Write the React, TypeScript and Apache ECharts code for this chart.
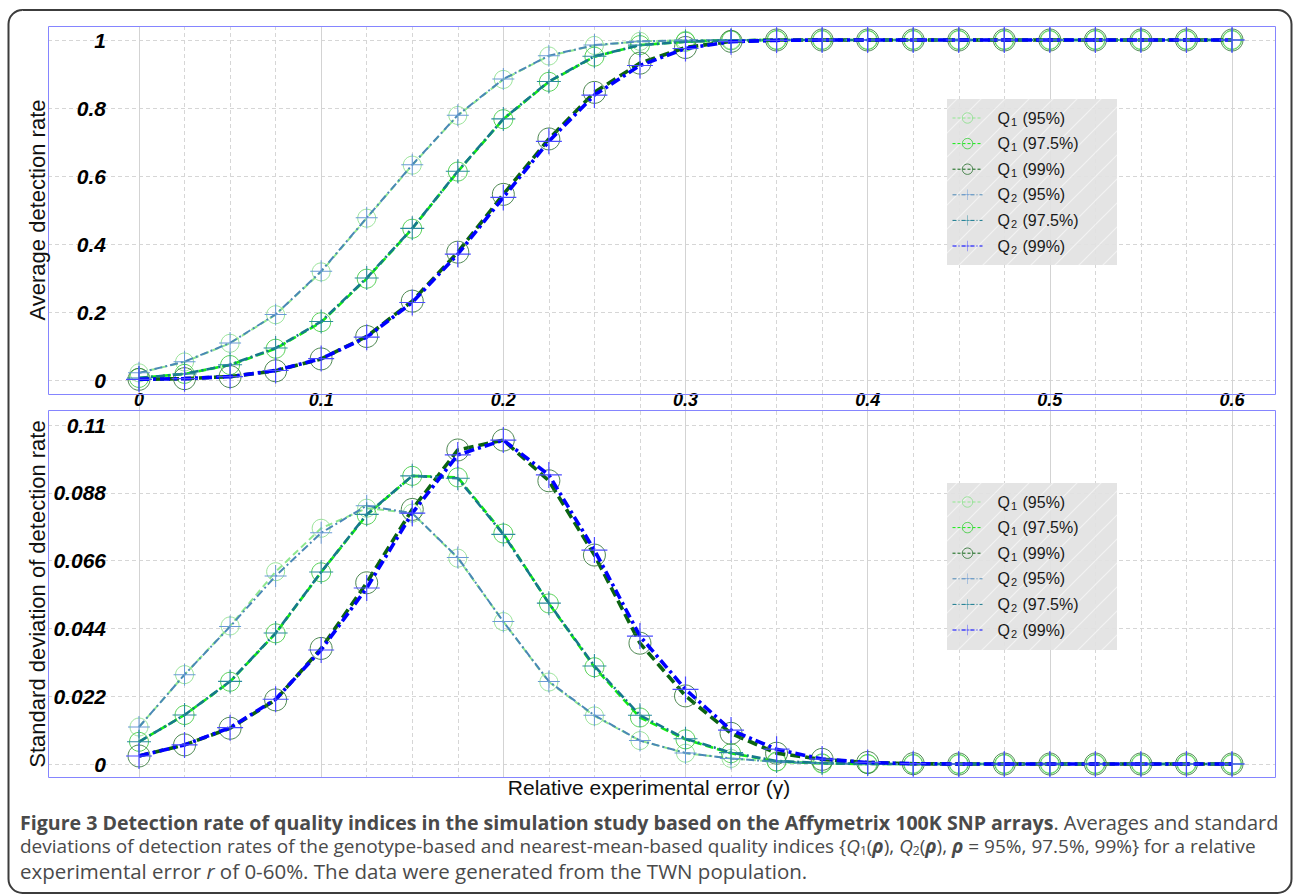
import React, { useEffect, useRef } from "react";
import * as echarts from "echarts";

const xs = [0, 0.025, 0.05, 0.075, 0.1, 0.125, 0.15, 0.175, 0.2, 0.225, 0.25, 0.275, 0.3, 0.325, 0.35, 0.375, 0.4, 0.425, 0.45, 0.475, 0.5, 0.525, 0.55, 0.575, 0.6];
const xTickLabels = [0, 0.1, 0.2, 0.3, 0.4, 0.5, 0.6];
const avgTicks = [0, 0.2, 0.4, 0.6, 0.8, 1];
const sdTicks = [0, 0.022, 0.044, 0.066, 0.088, 0.11];

const seriesNames = ["Q1 (95%)", "Q1 (97.5%)", "Q1 (99%)", "Q2 (95%)", "Q2 (97.5%)", "Q2 (99%)"];

// Average detection rate
const avgQ1_95 = [0.021, 0.053, 0.108, 0.192, 0.318, 0.476, 0.632, 0.778, 0.884, 0.953, 0.984, 0.996, 0.999, 1, 1, 1, 1, 1, 1, 1, 1, 1, 1, 1, 1];
const avgQ1_975 = [0.006, 0.018, 0.044, 0.092, 0.17, 0.298, 0.445, 0.613, 0.767, 0.877, 0.951, 0.985, 0.995, 0.999, 1, 1, 1, 1, 1, 1, 1, 1, 1, 1, 1];
const avgQ1_99 = [0.002, 0.004, 0.01, 0.027, 0.062, 0.128, 0.232, 0.376, 0.546, 0.709, 0.846, 0.932, 0.978, 0.996, 1, 1, 1, 1, 1, 1, 1, 1, 1, 1, 1];
const avgQ2_95 = [0.021, 0.054, 0.109, 0.193, 0.32, 0.477, 0.633, 0.779, 0.885, 0.954, 0.985, 0.996, 0.999, 1, 1, 1, 1, 1, 1, 1, 1, 1, 1, 1, 1];
const avgQ2_975 = [0.006, 0.018, 0.045, 0.094, 0.172, 0.3, 0.446, 0.614, 0.768, 0.878, 0.952, 0.985, 0.995, 0.999, 1, 1, 1, 1, 1, 1, 1, 1, 1, 1, 1];
const avgQ2_99 = [0.002, 0.004, 0.01, 0.028, 0.063, 0.126, 0.228, 0.37, 0.537, 0.702, 0.838, 0.925, 0.975, 0.995, 0.999, 1, 1, 1, 1, 1, 1, 1, 1, 1, 1];

// Standard deviation of detection rate
const sdQ1_95 = [0.012, 0.029, 0.0448, 0.0624, 0.0765, 0.083, 0.0814, 0.0668, 0.0462, 0.0266, 0.0156, 0.0076, 0.0035, 0.0018, 0.0007, 0.0002, 0, 0, 0, 0, 0, 0, 0, 0, 0];
const sdQ1_975 = [0.0072, 0.0159, 0.0267, 0.0424, 0.0622, 0.0808, 0.0935, 0.093, 0.0748, 0.0521, 0.0314, 0.0151, 0.008, 0.0035, 0.0008, 0.0002, 0, 0, 0, 0, 0, 0, 0, 0, 0];
const sdQ1_99 = [0.0026, 0.0062, 0.0116, 0.0208, 0.0375, 0.0588, 0.0826, 0.1019, 0.1051, 0.0919, 0.0678, 0.0392, 0.0221, 0.00995, 0.0035, 0.0015, 0.0005, 0.0001, 0, 0, 0, 0, 0, 0, 0];
const sdQ2_95 = [0.012, 0.029, 0.0446, 0.061, 0.075, 0.0838, 0.0814, 0.067, 0.0462, 0.0268, 0.0158, 0.0076, 0.0036, 0.0018, 0.0007, 0.0002, 0, 0, 0, 0, 0, 0, 0, 0, 0];
const sdQ2_975 = [0.0072, 0.0159, 0.0268, 0.0425, 0.0623, 0.081, 0.0935, 0.0927, 0.0745, 0.0522, 0.0318, 0.0158, 0.0082, 0.0037, 0.001, 0.0003, 0, 0, 0, 0, 0, 0, 0, 0, 0];
const sdQ2_99 = [0.0026, 0.0062, 0.0118, 0.021, 0.037, 0.0571, 0.0814, 0.1003, 0.1051, 0.0938, 0.0694, 0.0415, 0.0242, 0.011, 0.0048, 0.0016, 0.0005, 0.0001, 0, 0, 0, 0, 0, 0, 0];

const avgSeries = [avgQ1_95, avgQ1_975, avgQ1_99, avgQ2_95, avgQ2_975, avgQ2_99];
const sdSeries = [sdQ1_95, sdQ1_975, sdQ1_99, sdQ2_95, sdQ2_975, sdQ2_99];

const PLUS = "path://M-0.5,-11 L0.5,-11 L0.5,11 L-0.5,11 Z M-11,-0.5 L11,-0.5 L11,0.5 L-11,0.5 Z";

const styles = [
  { line: "#8fe88f", mark: "#8fe08f", width: 2, dash: [7, 4], legendDash: [3, 2], symbol: "circle", size: 18 },
  { line: "#11ee11", mark: "#44cc44", width: 2.6, dash: [8, 4], legendDash: [3, 2], symbol: "circle", size: 19 },
  { line: "#0b6410", mark: "#3a7a3e", width: 3.6, dash: [10, 5], legendDash: [3, 2], symbol: "circle", size: 22 },
  { line: "#4a88b6", mark: "#6a9ad6", width: 2, dash: [8, 3, 2, 3], legendDash: [4, 2, 1, 2], symbol: PLUS, size: 22 },
  { line: "#16788c", mark: "#2b8aa0", width: 2.6, dash: [9, 3, 2, 3], legendDash: [4, 2, 1, 2], symbol: PLUS, size: 24 },
  { line: "#0000ff", mark: "#4a4aff", width: 3.6, dash: [10, 4, 3, 4], legendDash: [4, 2, 1, 2], symbol: PLUS, size: 26 },
];

const FONT = "'Liberation Sans', Arial, sans-serif";
const CAP_FONT = "'Open Sans', 'Noto Sans', sans-serif";

function markStyle(k: number) {
  const s = styles[k];
  return s.symbol === "circle"
    ? { color: "rgba(0,0,0,0)", borderColor: s.mark, borderWidth: 0.9 }
    : { color: s.mark, borderWidth: 0 };
}

function makeSeries(values: number[][], xAxisIndex: number, yAxisIndex: number) {
  return values.map((arr, k) => {
    const s = styles[k];
    return {
      name: seriesNames[k],
      type: "line",
      xAxisIndex,
      yAxisIndex,
      clip: false,
      data: xs.map((x, i) => [x, arr[i]]),
      symbol: s.symbol,
      symbolSize: s.size,
      showSymbol: true,
      lineStyle: { color: s.line, width: s.width, type: s.dash },
      itemStyle: markStyle(k),
      emphasis: { disabled: true },
      z: 2 + k * 0.01,
    };
  });
}

const hatchSvg =
  "<svg xmlns='http://www.w3.org/2000/svg' width='24' height='24'><rect width='24' height='24' fill='#e2e2e2'/><path d='M-6,6 L6,-6 M0,24 L24,0 M18,30 L30,18' stroke='#f2f2f2' stroke-width='1.2'/></svg>";
const hatchFill = {
  image: "data:image/svg+xml;charset=utf-8," + encodeURIComponent(hatchSvg),
  repeat: "repeat",
  imageWidth: 24,
  imageHeight: 24,
};

const legendRich = {
  q: { fontSize: 16, fontFamily: FONT, color: "#1a1a1a", padding: [0, 0, 0, 10] },
  s: { fontSize: 11, fontFamily: FONT, color: "#1a1a1a", verticalAlign: "bottom", padding: [7, 1, 0, 1] },
  t: { fontSize: 16, fontFamily: FONT, color: "#1a1a1a" },
};
const legendFormatter = (name: string) => {
  const m = name.match(/^Q(\d) (.*)$/);
  if (!m) return name;
  return `{q|Q}{s|${m[1]}}{t| ${m[2]}}`;
};

function makeLegend(top: number) {
  return {
    data: seriesNames.map((name, k) => ({
      name,
      lineStyle: { color: styles[k].line, width: 1, type: styles[k].legendDash },
      itemStyle: markStyle(k),
    })),
    orient: "vertical",
    left: 952,
    top,
    itemWidth: 30,
    itemHeight: 13,
    itemGap: 8.6,
    padding: 0,
    selectedMode: false,
    formatter: legendFormatter,
    textStyle: { rich: legendRich, color: "#1a1a1a" },
  };
}

const tickLabelStyle = {
  fontFamily: FONT,
  fontWeight: "bold",
  fontStyle: "italic",
  color: "#000",
};

export default function App() {
  const ref = useRef<HTMLDivElement>(null);
  useEffect(() => {
    if (!ref.current) return;
    const chart = echarts.init(ref.current, null, { renderer: "svg" });
    const gridDash = { color: "#d6d6d6", type: [4, 3], width: 1 };
    const capColor = "#4a4a4a";
    const cap = (size: number, extra: any = {}) => ({ fontFamily: CAP_FONT, fontSize: size, lineHeight: 20, color: capColor, ...extra });
    const option: any = {
      animation: false,
      backgroundColor: "#fff",
      grid: [
        { left: 139, top: 26, width: 1093, height: 752 },
        { left: 48, top: 40, width: 1228, height: 340 },
        { left: 139, top: 40, width: 1093, height: 340 },
        { left: 48, top: 425, width: 1228, height: 339 },
        { left: 139, top: 425, width: 1093, height: 339 },
      ],
      xAxis: [
        {
          gridIndex: 0, type: "value", min: 0, max: 0.6, interval: 0.025,
          axisLine: { show: false }, axisTick: { show: false }, axisLabel: { show: false },
          splitLine: { show: true, lineStyle: gridDash },
        },
        {
          gridIndex: 0, type: "value", min: 0, max: 0.6, interval: 0.1,
          axisLine: { show: false }, axisTick: { show: false }, axisLabel: { show: false },
          splitLine: { show: true, lineStyle: { color: "#d3d3d3", width: 1, type: "solid" } },
        },
        { gridIndex: 1, type: "value", min: 0, max: 1, show: false },
        {
          gridIndex: 2, type: "value", min: 0, max: 0.6, interval: 0.1,
          axisLine: { show: false }, axisTick: { show: false }, splitLine: { show: false },
          axisLabel: {
            ...tickLabelStyle, fontSize: 18, margin: 11,
            formatter: (v: number) => (xTickLabels.some((t) => Math.abs(t - v) < 1e-9) ? String(+v.toFixed(1)) : ""),
          },
        },
        { gridIndex: 3, type: "value", min: 0, max: 1, show: false },
        { gridIndex: 4, type: "value", min: 0, max: 0.6, show: false },
      ],
      yAxis: [
        { gridIndex: 0, type: "value", min: 0, max: 1, show: false },
        {
          gridIndex: 1, type: "value", min: avgTicks[0], max: avgTicks[avgTicks.length - 1], interval: 0.2,
          axisLine: { show: false }, axisTick: { show: false },
          splitLine: { show: true, lineStyle: gridDash },
          axisLabel: {
            ...tickLabelStyle, fontSize: 21, inside: true, margin: 58, align: "right",
            formatter: (v: number) => String(+v.toFixed(1)),
          },
        },
        { gridIndex: 2, type: "value", min: 0, max: 1, show: false },
        {
          gridIndex: 3, type: "value", min: sdTicks[0], max: sdTicks[sdTicks.length - 1], interval: 0.022,
          axisLine: { show: false }, axisTick: { show: false },
          splitLine: { show: true, lineStyle: gridDash },
          axisLabel: {
            ...tickLabelStyle, fontSize: 21, inside: true, margin: 58, align: "right",
            formatter: (v: number) => String(+v.toFixed(3)),
          },
        },
        { gridIndex: 4, type: "value", min: 0, max: 0.11, show: false },
      ],
      legend: [makeLegend(110), makeLegend(494)],
      series: [...makeSeries(avgSeries, 3, 2), ...makeSeries(sdSeries, 5, 4)],
      graphic: [
        {
          type: "rect", z: 1, silent: true,
          shape: { x: 8.5, y: 10, width: 1283, height: 883, r: 14 },
          style: { fill: "none", stroke: "#3c3c3c", lineWidth: 2 },
        },
        {
          type: "rect", z: 3, silent: true,
          shape: { x: 48.5, y: 26.5, width: 1227, height: 368 },
          style: { fill: "none", stroke: "#8585ff", lineWidth: 1 },
        },
        {
          type: "rect", z: 3, silent: true,
          shape: { x: 48.5, y: 410.5, width: 1227, height: 367 },
          style: { fill: "none", stroke: "#8585ff", lineWidth: 1 },
        },
        {
          type: "rect", z: 3, silent: true,
          shape: { x: 947, y: 99, width: 170, height: 166 },
          style: { fill: hatchFill, opacity: 0.92 },
        },
        {
          type: "rect", z: 3, silent: true,
          shape: { x: 947, y: 483, width: 170, height: 167 },
          style: { fill: hatchFill, opacity: 0.92 },
        },
        {
          type: "text", z: 5, silent: true, x: 37, y: 210, rotation: Math.PI / 2,
          style: { text: "Average detection rate", fontFamily: FONT, fontSize: 22, fill: "#111", align: "center", verticalAlign: "middle" },
        },
        {
          type: "text", z: 5, silent: true, x: 37, y: 594, rotation: Math.PI / 2,
          style: { text: "Standard deviation of detection rate", fontFamily: FONT, fontSize: 22, fill: "#111", align: "center", verticalAlign: "middle" },
        },
        {
          type: "text", z: 5, silent: true, x: 649, y: 787,
          style: { text: "Relative experimental error (\u03b3)", fontFamily: FONT, fontSize: 21, fill: "#111", align: "center", verticalAlign: "middle" },
        },
        {
          type: "text", z: 5, silent: true, x: 20, y: 822,
          style: {
            fontFamily: CAP_FONT, fontSize: 20, fill: capColor,
            text: "{b|Figure 3 Detection rate of quality indices in the simulation study based on the Affymetrix 100K SNP arrays}{r|. Averages and standard}",
            verticalAlign: "middle", align: "left",
            rich: {
              b: cap(19.6, { fontWeight: "bold", color: "#231f20" }),
              r: cap(20),
            },
          },
        },
        {
          type: "text", z: 5, silent: true, x: 20, y: 846,
          style: {
            fontFamily: CAP_FONT, fontSize: 19, fill: capColor,
            text: "{r|deviations of detection rates of the genotype-based and nearest-mean-based quality indices }{r|{}{i|Q}{s|1}{r|(}{g|\u03c1}{r|), }{i|Q}{s|2}{r|(}{g|\u03c1}{r|), }{g|\u03c1}{r| = 95%, 97.5%, 99%}}{r| for a relative}",
            verticalAlign: "middle", align: "left",
            rich: {
              r: cap(19),
              i: cap(19, { fontStyle: "italic" }),
              s: cap(12, { verticalAlign: "bottom", padding: [4, 0, 0, 0], lineHeight: 13 }),
              g: cap(19, { fontStyle: "italic", fontWeight: "bold" }),
            },
          },
        },
        {
          type: "text", z: 5, silent: true, x: 20, y: 871,
          style: {
            fontFamily: CAP_FONT, fontSize: 20.5, fill: capColor,
            text: "{r|experimental error }{i|r}{r| of 0-60%. The data were generated from the TWN population.}",
            verticalAlign: "middle", align: "left",
            rich: {
              r: cap(20.5),
              i: cap(20.5, { fontStyle: "italic" }),
            },
          },
        },
      ],
    };
    chart.setOption(option);
    return () => chart.dispose();
  }, []);
  return (
    <div
      ref={ref}
      style={{ position: "fixed", left: 0, top: 0, width: 1293, height: 895, background: "#fff" }}
    />
  );
}
